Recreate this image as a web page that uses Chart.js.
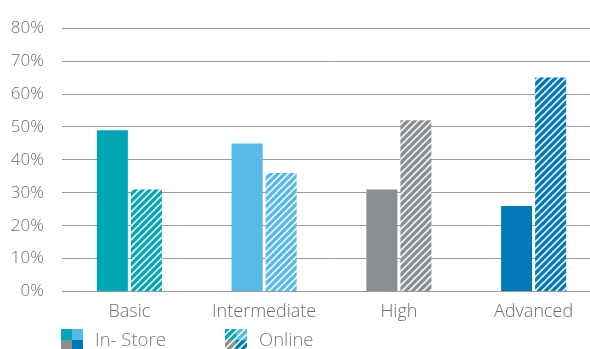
<!DOCTYPE html>
<html>
<head>
<meta charset="utf-8">
<script src="https://cdn.jsdelivr.net/npm/chart.js@4"></script>
<style>
  html, body { margin: 0; padding: 0; overflow: hidden; background: #fff; }
  #wrap { width: 601px; height: 349px; }
</style>
</head>
<body>
<div id="wrap"><canvas id="skillsChart"></canvas></div>
<script>
// datos
const categorias = ['Basic', 'Intermediate', 'High', 'Advanced'];
const enTienda = [49, 45, 31, 26];
const online = [31, 36, 52, 65];
const nombresSerie = ['In- Store', 'Online'];
const ticksY = [0, 10, 20, 30, 40, 50, 60, 70, 80];

const colores = ['#00a5b6', '#56b9e8', '#8a8d91', '#0078b6'];
const fuente = '"Open Sans", "Noto Sans", sans-serif';

// patrón rayado para la serie online
function rayado(color) {
    const c = document.createElement('canvas');
    c.width = 7; c.height = 7;
    const ctx = c.getContext('2d');
    ctx.fillStyle = color;
    ctx.fillRect(0, 0, 7, 7);
    ctx.strokeStyle = 'rgba(255,255,255,0.9)';
    ctx.lineWidth = 1.6;
    ctx.beginPath();
    ctx.moveTo(-1, 8); ctx.lineTo(8, -1);
    ctx.moveTo(-1, 1); ctx.lineTo(1, -1);
    ctx.moveTo(6, 8); ctx.lineTo(8, 6);
    ctx.stroke();
    return c.getContext('2d').createPattern(c, 'repeat');
}

// leyenda dibujada a mano (cuadros de 4 colores)
const leyenda = {
    id: 'leyenda',
    afterDraw(chart) {
        const ctx = chart.ctx;
        const posX = [61, 225];
        const size = 22, y = 329;
        chart.data.datasets.forEach((ds, i) => {
            const x = posX[i];
            const h = size / 2;
            const quads = [[0, 0, 0], [h, 0, 1], [0, h, 2], [h, h, 3]];
            quads.forEach(([dx, dy, k]) => {
                ctx.fillStyle = i === 0 ? colores[k] : rayado(colores[k]);
                ctx.fillRect(x + dx, y + dy, h, h);
            });
            ctx.fillStyle = '#777';
            ctx.font = '300 18.5px ' + fuente;
            ctx.textBaseline = 'middle';
            ctx.textAlign = 'left';
            ctx.fillText(ds.label, x + size + 12, y + 12);
        });
    }
};

new Chart(document.getElementById('skillsChart'), {
    type: 'bar',
    data: {
        labels: categorias,
        datasets: [
            {
                label: nombresSerie[0],
                data: enTienda,
                backgroundColor: colores
            },
            {
                label: nombresSerie[1],
                data: online,
                backgroundColor: colores.map(rayado)
            }
        ]
    },
    options: {
        responsive: true,
        maintainAspectRatio: false,
        animation: false,
        categoryPercentage: 0.505,
        barPercentage: 0.912,
        layout: { padding: { top: 26, right: 0, left: 0, bottom: 0 } },
        plugins: {
            legend: { display: false },
            tooltip: { enabled: false }
        },
        scales: {
            x: {
                grid: { display: false },
                border: { display: false },
                ticks: {
                    color: '#6d6d6d',
                    font: { family: fuente, size: 18, weight: 300 },
                    padding: 2
                },
                afterFit(scale) { scale.height = 57.5; }
            },
            y: {
                min: 0,
                max: 80,
                afterBuildTicks(scale) { scale.ticks = ticksY.map(v => ({ value: v })); },
                grid: { color: '#9b9b9b', lineWidth: 1, drawTicks: false },
                border: { display: false },
                ticks: {
                    color: '#6d6d6d',
                    padding: 18,
                    font: { family: fuente, size: 17, weight: 300 },
                    callback: v => v + '%'
                },
                afterFit(scale) { scale.width = 62; }
            }
        }
    },
    plugins: [leyenda]
});
</script>
</body>
</html>
